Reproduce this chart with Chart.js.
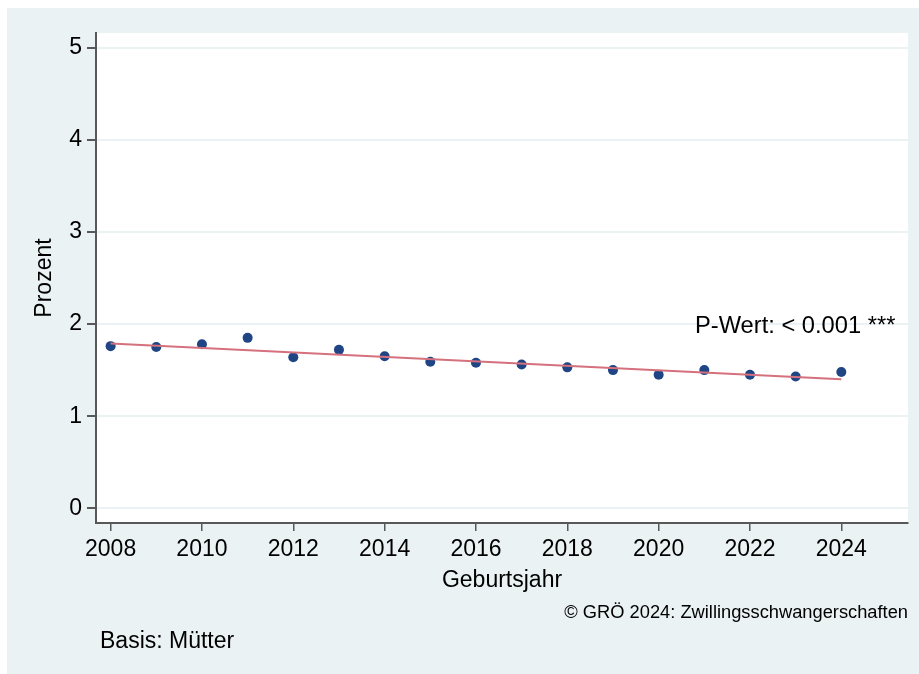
<!DOCTYPE html>
<html>
<head>
<meta charset="utf-8">
<script src="https://cdn.jsdelivr.net/npm/chart.js@4"></script>
<style>
  html, body { margin: 0; padding: 0; background: #fff; }
  #wrap { width: 919px; height: 674px; }
</style>
</head>
<body>
<div id="wrap"><canvas id="twinChart" width="919" height="674"></canvas></div>
<script>
// Geburtsjahr / Anteil Zwillingsschwangerschaften in Prozent
const years = [2008, 2009, 2010, 2011, 2012, 2013, 2014, 2015, 2016, 2017, 2018, 2019, 2020, 2021, 2022, 2023, 2024];
const percent = [1.76, 1.75, 1.78, 1.85, 1.64, 1.72, 1.65, 1.59, 1.58, 1.56, 1.53, 1.50, 1.45, 1.50, 1.45, 1.43, 1.48];

// lineare Trendlinie (Anfangs- und Endpunkt)
const fitYears = [2008, 2024];
const fitValues = [1.79, 1.40];

const xTicks = [2008, 2010, 2012, 2014, 2016, 2018, 2020, 2022, 2024];
const yTicks = [0, 1, 2, 3, 4, 5];

const FONT = '"Liberation Sans", Arial, Helvetica, sans-serif';
const BG = '#eaf2f3';
const AXIS = '#585858';

// Hintergrund und Beschriftungen im Stata-Stil
const frame = {
  id: 'frame',
  beforeDraw(chart) {
    const { ctx, chartArea: a } = chart;
    ctx.save();
    ctx.fillStyle = '#fff';
    ctx.fillRect(0, 0, chart.width, chart.height);
    ctx.fillStyle = BG;
    ctx.fillRect(7, 8, chart.width - 7, chart.height - 8);
    ctx.fillStyle = '#fff';
    ctx.fillRect(a.left, a.top, a.right - a.left, a.bottom - a.top);
    ctx.restore();
  },
  afterDraw(chart) {
    const { ctx, chartArea: a } = chart;
    ctx.save();
    ctx.fillStyle = '#000';
    ctx.textBaseline = 'middle';

    ctx.font = '23.7px ' + FONT;
    ctx.textAlign = 'left';
    ctx.fillText('P-Wert: < 0.001 ***', 695, 326);

    ctx.font = '23px ' + FONT;
    ctx.textAlign = 'center';
    ctx.fillText('Geburtsjahr', (a.left + a.right) / 2, 581);

    ctx.textAlign = 'left';
    ctx.fillText('Basis: Mütter', 100, 642);

    ctx.font = '18.3px ' + FONT;
    ctx.textAlign = 'right';
    ctx.fillText('© GRÖ 2024: Zwillingsschwangerschaften', 908, 613);

    ctx.font = '23px ' + FONT;
    ctx.translate(45, (a.top + a.bottom) / 2);
    ctx.rotate(-Math.PI / 2);
    ctx.textAlign = 'center';
    ctx.fillText('Prozent', 0, 0);
    ctx.restore();
  }
};

const ctx = document.getElementById('twinChart').getContext('2d');
new Chart(ctx, {
  type: 'scatter',
  data: {
    datasets: [
      {
        type: 'line',
        data: fitYears.map((x, i) => ({ x, y: fitValues[i] })),
        borderColor: '#d5707d',
        borderWidth: 2,
        pointRadius: 0,
        fill: false,
        order: 0,
      },
      {
        data: years.map((x, i) => ({ x, y: percent[i] })),
        backgroundColor: '#1f4584',
        borderWidth: 0,
        pointRadius: 5,
        order: 1,
      },
    ],
  },
  options: {
    responsive: false,
    animation: false,
    layout: { padding: { top: 33, right: 11, left: 0, bottom: 0 } },
    plugins: { legend: { display: false }, tooltip: { enabled: false } },
    scales: {
      x: {
        type: 'linear',
        min: 2007.68,
        max: 2025.46,
        afterBuildTicks: (s) => { s.ticks = xTicks.map((v) => ({ value: v })); },
        afterFit: (s) => { s.height = 151; },
        grid: { drawOnChartArea: false, tickLength: 8, tickColor: AXIS, lineWidth: 1.5 },
        border: { color: AXIS, width: 2 },
        ticks: {
          font: { family: FONT, size: 23 }, color: '#000', padding: 5, maxRotation: 0,
          callback: (v) => String(v),
        },
      },
      y: {
        min: -0.16,
        max: 5.16,
        afterBuildTicks: (s) => { s.ticks = yTicks.map((v) => ({ value: v })); },
        afterFit: (s) => { s.width = 96; },
        grid: { color: BG, lineWidth: 2, tickLength: 9, tickColor: AXIS },
        border: { color: AXIS, width: 2 },
        ticks: { font: { family: FONT, size: 23 }, color: '#000', padding: 5, callback: (v) => String(v) },
      },
    },
  },
  plugins: [frame],
});
</script>
</body>
</html>
